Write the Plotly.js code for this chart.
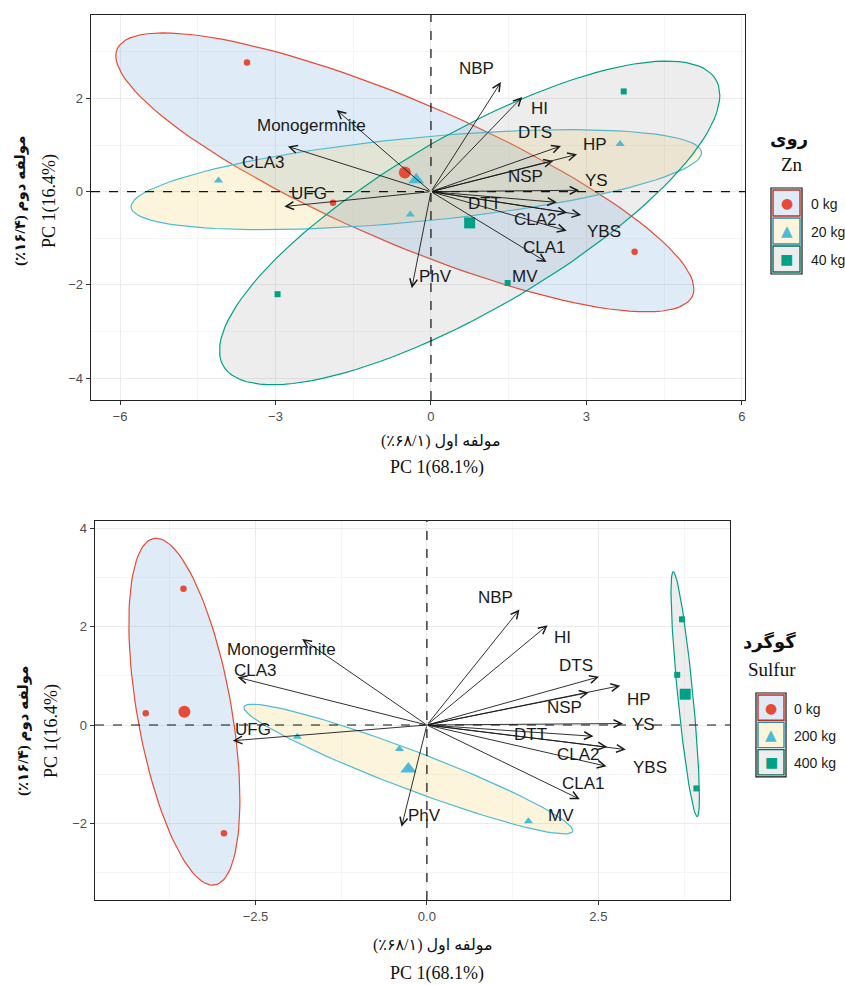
<!DOCTYPE html>
<html><head><meta charset="utf-8">
<script src="https://cdn.plot.ly/plotly-3.0.1.min.js"></script>
<style>html,body{margin:0;padding:0;background:#fff}#chart{width:845px;height:985px}</style>
</head><body><div id="chart"></div>
<script>
// ---- DATA ----
// PCA scores of the 9 observations (PC1, PC2)
const obsPC1 = [-3.55, -1.89, 3.93, -4.10, -0.40, 3.65, 3.72, -2.96, 1.48];
const obsPC2 = [2.77, -0.24, -1.29, 0.24, -0.49, 1.02, 2.15, -2.20, -1.96];
const znLevels = ['0 kg', '20 kg', '40 kg'];
const znGroup = ['0 kg', '0 kg', '0 kg', '20 kg', '20 kg', '20 kg', '40 kg', '40 kg', '40 kg'];
const sulfurLevels = ['0 kg', '200 kg', '400 kg'];
const sulfurGroup = ['0 kg', '200 kg', '400 kg', '0 kg', '200 kg', '400 kg', '400 kg', '0 kg', '200 kg'];

// variable loadings (arrow tips)
const varNames = ['NBP', 'HI', 'DTS', 'HP', 'NSP', 'YS', 'DTT', 'CLA2', 'YBS', 'CLA1', 'MV', 'PhV', 'UFG', 'CLA3', 'Monogermnite'];
const loadPC1 = [1.35, 1.76, 2.51, 2.82, 2.36, 2.86, 2.43, 2.63, 2.90, 2.62, 2.23, -0.37, -2.83, -2.76, -1.82];
const loadPC2 = [2.35, 2.03, 0.98, 0.80, 0.66, 0.03, -0.23, -0.45, -0.50, -0.84, -1.51, -2.07, -0.32, 0.97, 1.75];

// label positions (repelled text) for each panel
const znLabelX = [0.88, 2.10, 2.01, 3.17, 1.82, 3.20, 1.03, 2.01, 3.33, 2.20, 1.81, 0.08, -2.35, -3.24, -2.30];
const znLabelY = [2.64, 1.79, 1.27, 1.02, 0.32, 0.25, -0.26, -0.59, -0.86, -1.20, -1.81, -1.81, -0.05, 0.63, 1.41];
const sLabelX = [1.00, 1.98, 2.17, 3.10, 2.00, 3.16, 1.51, 2.21, 3.26, 2.28, 1.96, -0.04, -2.54, -2.50, -2.12];
const sLabelY = [2.59, 1.79, 1.21, 0.52, 0.35, 0.02, -0.20, -0.59, -0.86, -1.18, -1.84, -1.84, -0.10, 1.10, 1.54];

const xTitleFa = '\u202Bمولفه اول (۶۸/۱٪)\u202C';
const xTitleEn = 'PC 1(68.1%)';
const yTitleFa = '\u202Bمولفه دوم (۱۶/۴٪)\u202C';
const yTitleEn = 'PC 1(16.4%)';

// ---- STYLE ----
const lineColors = ['#E64B35', '#4DBBD5', '#00A087'];
const fillColors = ['rgba(110,170,225,0.22)', 'rgba(240,205,80,0.2)', 'rgba(150,150,150,0.17)'];
const keyBorder = ['#b5332a', '#2b8ea5', '#0a6e58'];
const symbols = ['circle', 'triangle-up', 'square'];
const ptSize = [6.5, 8, 6];
const cenSize = [12, 14, 11];
const ELL = 1.42;

function mean(a) { return a.reduce((s, v) => s + v, 0) / a.length; }
function ellipsePts(xs, ys) {
  const mx = mean(xs), my = mean(ys), n = xs.length;
  let sxx = 0, syy = 0, sxy = 0;
  for (let i = 0; i < n; i++) { sxx += (xs[i] - mx) ** 2; syy += (ys[i] - my) ** 2; sxy += (xs[i] - mx) * (ys[i] - my); }
  sxx /= (n - 1); syy /= (n - 1); sxy /= (n - 1);
  const a = Math.sqrt(sxx), b = sxy / a, c = Math.sqrt(Math.max(syy - b * b, 1e-9));
  const ex = [], ey = [];
  for (let k = 0; k <= 120; k++) {
    const t = 2 * Math.PI * k / 120;
    ex.push(mx + ELL * a * Math.cos(t));
    ey.push(my + ELL * (b * Math.cos(t) + c * Math.sin(t)));
  }
  return [ex, ey];
}

const traces = [];
const annotations = [];
const shapes = [];

function panel(groups, levels, xa, ya, labX, labY) {
  const sel = lv => obsPC1.map((v, i) => i).filter(i => groups[i] === lv);
  levels.forEach((lv, g) => {
    const idx = sel(lv);
    const xs = idx.map(i => obsPC1[i]), ys = idx.map(i => obsPC2[i]);
    const [ex, ey] = ellipsePts(xs, ys);
    traces.push({ x: ex, y: ey, xaxis: xa, yaxis: ya, mode: 'lines', fill: 'toself',
      fillcolor: fillColors[g], line: { color: lineColors[g], width: 1.2 }, hoverinfo: 'skip', name: lv });
  });
  levels.forEach((lv, g) => {
    const idx = sel(lv);
    const xs = idx.map(i => obsPC1[i]), ys = idx.map(i => obsPC2[i]);
    traces.push({ x: xs, y: ys, xaxis: xa, yaxis: ya, mode: 'markers', name: lv,
      marker: { symbol: symbols[g], size: ptSize[g], color: lineColors[g] } });
    traces.push({ x: [mean(xs)], y: [mean(ys)], xaxis: xa, yaxis: ya, mode: 'markers', name: lv + ' mean',
      marker: { symbol: symbols[g], size: cenSize[g], color: lineColors[g] } });
  });
  const xr = xa === 'x' ? 'x' : 'x2', yr = ya === 'y' ? 'y' : 'y2';
  varNames.forEach((nm, i) => {
    annotations.push({ xref: xr, yref: yr, axref: xr, ayref: yr, x: loadPC1[i], y: loadPC2[i], ax: 0, ay: 0,
      text: '', showarrow: true, arrowhead: 5, arrowsize: 1.7, arrowwidth: 0.9, arrowcolor: '#1a1a1a', standoff: 0, startstandoff: 0 });
    annotations.push({ xref: xr, yref: yr, x: labX[i], y: labY[i], text: nm, showarrow: false,
      font: { family: 'Liberation Sans, Arial, sans-serif', size: 17, color: '#1a1a1a' }, xanchor: 'center', yanchor: 'middle' });
  });
  shapes.push({ type: 'line', xref: xr, yref: yr + ' domain', x0: 0, x1: 0, y0: 0, y1: 1, line: { color: '#111', width: 1.2, dash: 'dash' } });
  shapes.push({ type: 'line', xref: xr + ' domain', yref: yr, x0: 0, x1: 1, y0: 0, y1: 0, line: { color: '#111', width: 1.2, dash: 'dash' } });
}

panel(znGroup, znLevels, 'x', 'y', znLabelX, znLabelY);
panel(sulfurGroup, sulfurLevels, 'x2', 'y2', sLabelX, sLabelY);

const W = 845, H = 985;
const px = v => v / W, py = v => 1 - v / H;
const serif = 'Liberation Serif, Times New Roman, DejaVu Sans, serif';
function addText(t, x, y, size, opts) {
  annotations.push(Object.assign({ xref: 'paper', yref: 'paper', x: px(x), y: py(y), text: t, showarrow: false,
    xanchor: 'center', yanchor: 'middle', font: { family: serif, size: size, color: '#111' } }, opts || {}));
}
// axis titles
addText(xTitleFa, 441, 441, 16);
addText(xTitleEn, 437, 468, 18);
addText(xTitleFa, 433, 945, 16);
addText(xTitleEn, 437, 973, 18);
addText('<b>' + yTitleFa + '</b>', 20, 201, 15, { textangle: -90 });
addText(yTitleEn, 49, 201, 18, { textangle: -90 });
addText('<b>' + yTitleFa + '</b>', 23, 731, 15, { textangle: -90 });
addText(yTitleEn, 51, 731, 18, { textangle: -90 });

// legends (manual keys)
const glyphs = ['●', '▲', '■'];
const glyphSize = [14, 15, 14];
function legend(titleFa, titleEn, tx, tyFa, tyEn, kx0, kx1, ky, kh, lx, levels) {
  addText('<b>' + titleFa + '</b>', tx, tyFa, 18);
  addText(titleEn, tx + 3, tyEn, 19);
  shapes.push({ type: 'rect', xref: 'paper', yref: 'paper', x0: px(kx0 - 1), x1: px(kx1 + 1), y0: py(ky - 1), y1: py(ky + 3 * kh + 1), line: { color: '#111', width: 1.2 } });
  levels.forEach((lv, g) => {
    shapes.push({ type: 'rect', xref: 'paper', yref: 'paper', x0: px(kx0 + 1), x1: px(kx1 - 1), y0: py(ky + g * kh + 1), y1: py(ky + (g + 1) * kh - 1),
      fillcolor: fillColors[g], line: { color: keyBorder[g], width: 1.4 } });
    annotations.push({ xref: 'paper', yref: 'paper', x: px((kx0 + kx1) / 2), y: py(ky + (g + 0.5) * kh), text: glyphs[g], showarrow: false,
      xanchor: 'center', yanchor: 'middle', font: { family: 'DejaVu Sans', size: glyphSize[g], color: lineColors[g] } });
    annotations.push({ xref: 'paper', yref: 'paper', x: px(lx), y: py(ky + (g + 0.5) * kh + 1), text: lv, showarrow: false,
      xanchor: 'left', yanchor: 'middle', font: { family: 'Liberation Sans, Arial, sans-serif', size: 14, color: '#1a1a1a' } });
  });
}
legend('روی', 'Zn', 789, 140, 165, 772, 801, 189, 28, 809, znLevels);
legend('گوگرد', 'Sulfur', 769, 642, 669, 757, 785, 694, 27.3, 792, sulfurLevels);

const axisBase = {
  showline: true, mirror: true, linecolor: '#222', linewidth: 1.4,
  ticks: 'outside', ticklen: 4, tickcolor: '#333', tickwidth: 1,
  tickfont: { family: 'Liberation Sans, Arial, sans-serif', size: 13, color: '#4d4d4d' },
  showgrid: true, gridcolor: '#ebebeb', gridwidth: 1, zeroline: false, fixedrange: true
};
const layout = {
  width: W, height: H, margin: { l: 0, r: 0, t: 0, b: 0 },
  paper_bgcolor: '#fff', plot_bgcolor: '#fff', showlegend: false,
  xaxis: Object.assign({}, axisBase, { domain: [px(91), px(745)], range: [-6.56, 6.06], tick0: 0, dtick: 3,
    minor: { dtick: 1.5, showgrid: true, gridcolor: '#f1f1f1', gridwidth: 0.7 }, anchor: 'y' }),
  yaxis: Object.assign({}, axisBase, { domain: [py(400), py(15)], range: [-4.47, 3.79], tick0: 0, dtick: 2,
    minor: { dtick: 1, showgrid: true, gridcolor: '#f1f1f1', gridwidth: 0.7 }, anchor: 'x' }),
  xaxis2: Object.assign({}, axisBase, { domain: [px(95), px(730)], range: [-4.84, 4.42], tick0: 0, dtick: 2.5, tickformat: '.1f',
    minor: { dtick: 1.25, showgrid: true, gridcolor: '#f1f1f1', gridwidth: 0.7 }, anchor: 'y2' }),
  yaxis2: Object.assign({}, axisBase, { domain: [py(900), py(521)], range: [-3.56, 4.15], tick0: 0, dtick: 2,
    minor: { dtick: 1, showgrid: true, gridcolor: '#f1f1f1', gridwidth: 0.7 }, anchor: 'x2' }),
  annotations: annotations, shapes: shapes
};
Plotly.newPlot('chart', traces, layout, { displayModeBar: false, staticPlot: true });
</script></body></html>
